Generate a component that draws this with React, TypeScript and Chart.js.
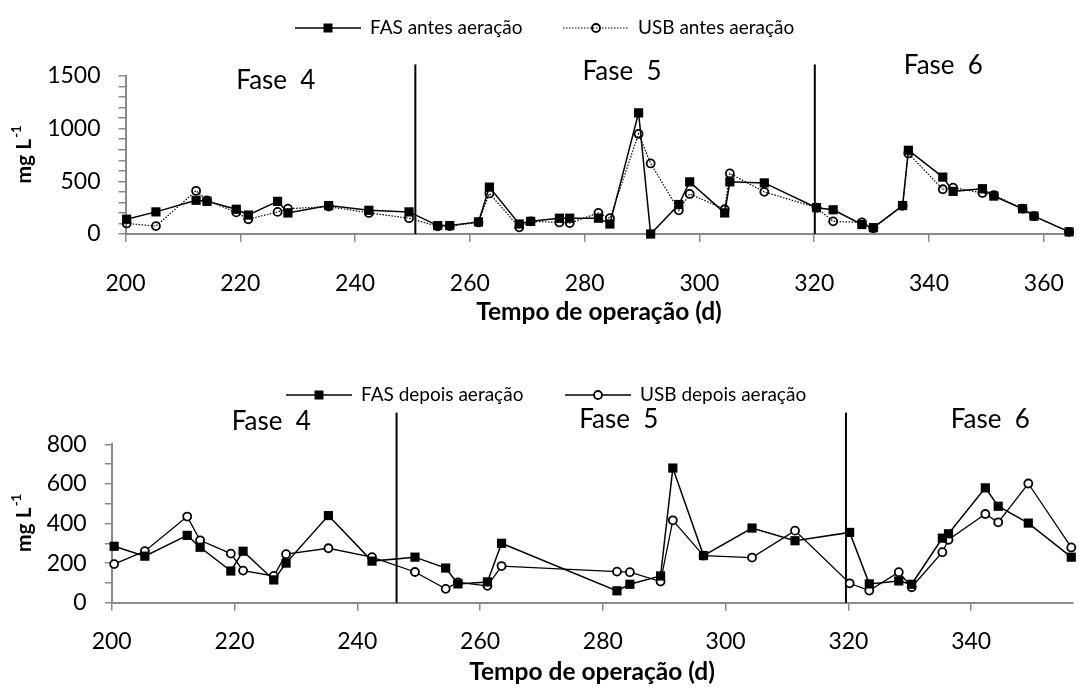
import React, { useEffect, useRef } from "react";
import { Chart, registerables } from "chart.js";
Chart.register(...registerables);

const FONT = "Lato, 'Open Sans', sans-serif";

// ---------- Top chart (antes aeração) ----------
const topDays = [
  200.2, 205.3, 212.3, 214.2, 219.3, 221.4, 226.5, 228.3, 235.4, 242.4,
  249.4, 254.4, 256.5, 261.5, 263.4, 268.6, 270.6, 275.6, 277.4, 282.4,
  284.4, 289.4, 291.5, 296.4, 298.3, 304.4, 305.3, 311.3, 320.4, 323.3,
  328.3, 330.3, 335.4, 336.4, 342.4, 344.2, 349.3, 351.3, 356.3, 358.3,
  364.4,
];
const fasAntes = [
  140, 210, 320, 310, 235, 180, 310, 200, 270, 225,
  210, 80, 80, 115, 445, 95, 120, 150, 150, 150,
  95, 1150, 0, 280, 495, 200, 495, 485, 250, 230,
  90, 60, 270, 795, 540, 405, 430, 360, 240, 170,
  20,
];
const usbAntes = [
  100, 75, 410, 320, 205, 140, 210, 240, 260, 200,
  150, 73, 75, 110, 385, 63, 120, 110, 104, 200,
  150, 950, 670, 225, 380, 235, 575, 400, 250, 120,
  110, 55, 268, 765, 425, 440, 390, 370, 240, 170,
  20,
];

// ---------- Bottom chart (depois aeração) ----------
const bottomDays = [
  200.4, 205.4, 212.3, 214.4, 219.4, 221.4, 226.4, 228.4, 235.3, 242.4,
  249.4, 254.4, 256.4, 261.2, 263.5, 282.3, 284.4, 289.4, 291.4, 296.4,
  304.3, 311.3, 320.2, 323.4, 328.2, 330.3, 335.3, 336.3, 342.3, 344.4,
  349.3, 356.3,
];
const fasDepois = [
  285, 235, 340, 280, 160, 260, 115, 200, 440, 210,
  230, 175, 95, 105, 300, 60, 93, 135, 680, 238,
  377, 313, 355, 95, 110, 93, 326, 348, 580, 487,
  402, 230,
];
const usbDepois = [
  195, 260, 435, 315, 248, 162, 135, 245, 275, 230,
  155, 70, 103, 85, 185, 157, 154, 107, 416, 238,
  228, 364, 98, 61, 154, 78, 255, 318, 448, 406,
  602, 279,
];

const phaseNames = ["Fase  4", "Fase  5", "Fase  6"];
const topPhaseBounds = [250.5, 320.1];
const bottomPhaseBounds = [246.4, 319.6];
const xTitle = "Tempo de operação (d)";
const yTitleMain = "mg L";
const yTitleSup = "-1";
const topLegend = ["FAS antes aeração", "USB antes aeração"];
const bottomLegend = ["FAS depois aeração", "USB depois aeração"];

type Opts = {
  width: number;
  height: number;
  left: number;
  right: number;
  top: number;
  bottom: number;
  xMax: number;
  yMax: number;
  yLabelStep: number;
  days: number[];
  fas: number[];
  usb: number[];
  usbDashed: boolean;
  usbFill: string;
  bounds: number[];
  boundTop: number;
  phasePos: { x: number; y: number }[];
  legend: string[];
  legendX: number[];
  legendY: number;
  xTitleOffset: number;
  xTickPad: number;
};

function drawMarker(ctx: CanvasRenderingContext2D, kind: string, x: number, y: number, fill: string) {
  ctx.save();
  if (kind === "rect") {
    ctx.fillStyle = "#000";
    ctx.fillRect(x - 4.5, y - 4.5, 9, 9);
  } else {
    ctx.beginPath();
    ctx.arc(x, y, 4, 0, Math.PI * 2);
    ctx.fillStyle = fill;
    ctx.fill();
    ctx.lineWidth = 1.8;
    ctx.strokeStyle = "#000";
    ctx.stroke();
  }
  ctx.restore();
}

function decor(o: Opts) {
  return {
    id: "decor",
    beforeDatasetsDraw(chart: any) {
      const { ctx, scales } = chart;
      const x = scales.x;
      const y = scales.y;
      ctx.save();
      ctx.strokeStyle = "#000";
      ctx.lineWidth = 2;
      o.bounds.forEach((b) => {
        const px = x.getPixelForValue(b);
        ctx.beginPath();
        ctx.moveTo(px, y.getPixelForValue(o.boundTop));
        ctx.lineTo(px, y.getPixelForValue(0));
        ctx.stroke();
      });
      ctx.restore();
    },
    afterDraw(chart: any) {
      const { ctx, scales, chartArea } = chart;
      const x = scales.x;
      const y = scales.y;
      ctx.save();
      // phase labels
      ctx.fillStyle = "#000";
      ctx.font = `26px ${FONT}`;
      ctx.textAlign = "center";
      ctx.textBaseline = "middle";
      phaseNames.forEach((n, i) => {
        const p = o.phasePos[i];
        ctx.fillText(n, x.getPixelForValue(p.x), y.getPixelForValue(p.y));
      });
      // legend
      ctx.font = `19px ${FONT}`;
      ctx.textAlign = "left";
      o.legend.forEach((label, i) => {
        const lx = o.legendX[i];
        const ly = o.legendY;
        ctx.save();
        ctx.strokeStyle = "#000";
        ctx.lineWidth = i === 1 && o.usbDashed ? 1.2 : 1.5;
        if (i === 1 && o.usbDashed) ctx.setLineDash([1.5, 1.5]);
        ctx.beginPath();
        ctx.moveTo(lx, ly);
        ctx.lineTo(lx + 66, ly);
        ctx.stroke();
        ctx.restore();
        drawMarker(ctx, i === 0 ? "rect" : "circle", lx + 33, ly, o.usbFill);
        ctx.fillStyle = "#000";
        ctx.fillText(label, lx + 75, ly);
      });
      // x title
      ctx.font = `bold 24.5px ${FONT}`;
      ctx.textAlign = "center";
      ctx.fillText(xTitle, (chartArea.left + chartArea.right) / 2, chartArea.bottom + o.xTitleOffset);
      // y title rotated
      const cy = (chartArea.top + chartArea.bottom) / 2;
      ctx.translate(24, cy);
      ctx.rotate(-Math.PI / 2);
      ctx.font = `bold 21px ${FONT}`;
      const w1 = ctx.measureText(yTitleMain).width;
      ctx.font = `bold 13px ${FONT}`;
      const w2 = ctx.measureText(yTitleSup).width;
      const start = -(w1 + w2) / 2;
      ctx.textAlign = "left";
      ctx.font = `bold 21px ${FONT}`;
      ctx.fillText(yTitleMain, start, 0);
      ctx.font = `bold 13px ${FONT}`;
      ctx.fillText(yTitleSup, start + w1 + 1, -7);
      ctx.restore();
    },
  };
}

function makeConfig(o: Opts): any {
  const grey = "#8a8a8a";
  return {
    type: "line",
    data: {
      datasets: [
        {
          label: o.legend[0],
          data: o.days.map((d, i) => ({ x: d, y: o.fas[i] })),
          borderColor: "#000",
          borderWidth: 1.5,
          backgroundColor: "#000",
          pointStyle: "rect",
          pointRadius: 6.5,
          pointBorderWidth: 0,
          pointBackgroundColor: "#000",
          tension: 0,
          clip: false,
        },
        {
          label: o.legend[1],
          data: o.days.map((d, i) => ({ x: d, y: o.usb[i] })),
          borderColor: "#000",
          borderWidth: o.usbDashed ? 1.2 : 1.3,
          borderDash: o.usbDashed ? [1.5, 1.5] : [],
          pointStyle: "circle",
          pointRadius: 4,
          pointBorderWidth: 1.8,
          pointBorderColor: "#000",
          pointBackgroundColor: o.usbFill,
          tension: 0,
          clip: false,
        },
      ],
    },
    options: {
      responsive: false,
      animation: false,
      events: [],
      layout: {
        padding: { left: 0, right: o.width - o.right, top: o.top, bottom: 0 },
      },
      plugins: { legend: { display: false }, tooltip: { enabled: false }, title: { display: false } },
      scales: {
        x: {
          type: "linear",
          min: 200,
          max: o.xMax,
          afterFit: (s: any) => {
            s.height = o.height - o.bottom;
            s.paddingLeft = 0;
            s.paddingRight = 0;
          },
          afterBuildTicks: (s: any) => {
            s.ticks = s.ticks.filter((t: any) => Math.abs(t.value % 20) < 1e-6);
          },
          ticks: {
            stepSize: 20,
            includeBounds: false,
            autoSkip: false,
            maxRotation: 0,
            color: "#000",
            padding: o.xTickPad,
            font: { family: FONT, size: 23 },
          },
          grid: {
            drawOnChartArea: false,
            drawTicks: true,
            tickLength: 8,
            color: grey,
            lineWidth: 1.5,
          },
          border: { display: true, color: grey, width: 2 },
        },
        y: {
          type: "linear",
          min: 0,
          max: o.yMax,
          afterFit: (s: any) => {
            s.width = o.left;
            s.paddingTop = 0;
            s.paddingBottom = 0;
          },
          ticks: {
            stepSize: 100,
            autoSkip: false,
            color: "#000",
            padding: 18,
            font: { family: FONT, size: 23 },
            callback: (v: number) => (v % o.yLabelStep === 0 ? String(v) : ""),
          },
          grid: {
            drawOnChartArea: false,
            drawTicks: true,
            tickLength: 7,
            color: grey,
            lineWidth: 1.5,
          },
          border: { display: true, color: grey, width: 2 },
        },
      },
    },
    plugins: [decor(o)],
  };
}

const topOpts: Opts = {
  width: 1079,
  height: 350,
  left: 125.5,
  right: 1077.6,
  top: 76,
  bottom: 234,
  xMax: 365,
  yMax: 1500,
  yLabelStep: 500,
  days: topDays,
  fas: fasAntes,
  usb: usbAntes,
  usbDashed: true,
  usbFill: "rgba(255,255,255,0)",
  bounds: topPhaseBounds,
  boundTop: 1610,
  phasePos: [
    { x: 226.2, y: 1459 },
    { x: 286.5, y: 1538 },
    { x: 342.5, y: 1595 },
  ],
  legend: topLegend,
  legendX: [295, 563],
  legendY: 28,
  xTitleOffset: 78,
  xTickPad: 28,
};

const bottomOpts: Opts = {
  width: 1079,
  height: 341,
  left: 111.7,
  right: 1077.5,
  top: 94.3,
  bottom: 252.7,
  xMax: 356.5,
  yMax: 800,
  yLabelStep: 200,
  days: bottomDays,
  fas: fasDepois,
  usb: usbDepois,
  usbDashed: false,
  usbFill: "#fff",
  bounds: bottomPhaseBounds,
  boundTop: 960,
  phasePos: [
    { x: 226, y: 914 },
    { x: 282.6, y: 923 },
    { x: 343.1, y: 923 },
  ],
  legend: bottomLegend,
  legendX: [286, 565],
  legendY: 45,
  xTitleOffset: 69,
  xTickPad: 17,
};

function ChartCanvas({ o, top }: { o: Opts; top: number }) {
  const ref = useRef<HTMLCanvasElement>(null);
  useEffect(() => {
    if (!ref.current) return;
    const chart = new Chart(ref.current, makeConfig(o));
    return () => chart.destroy();
  }, [o]);
  return (
    <canvas
      ref={ref}
      width={o.width}
      height={o.height}
      style={{ position: "absolute", left: 0, top, width: o.width, height: o.height, display: "block" }}
    />
  );
}

export default function App() {
  return (
    <div style={{ position: "absolute", left: 0, top: 0, width: 1079, height: 691, background: "#fff", overflow: "hidden" }}>
      <ChartCanvas o={topOpts} top={0} />
      <ChartCanvas o={bottomOpts} top={350} />
    </div>
  );
}
